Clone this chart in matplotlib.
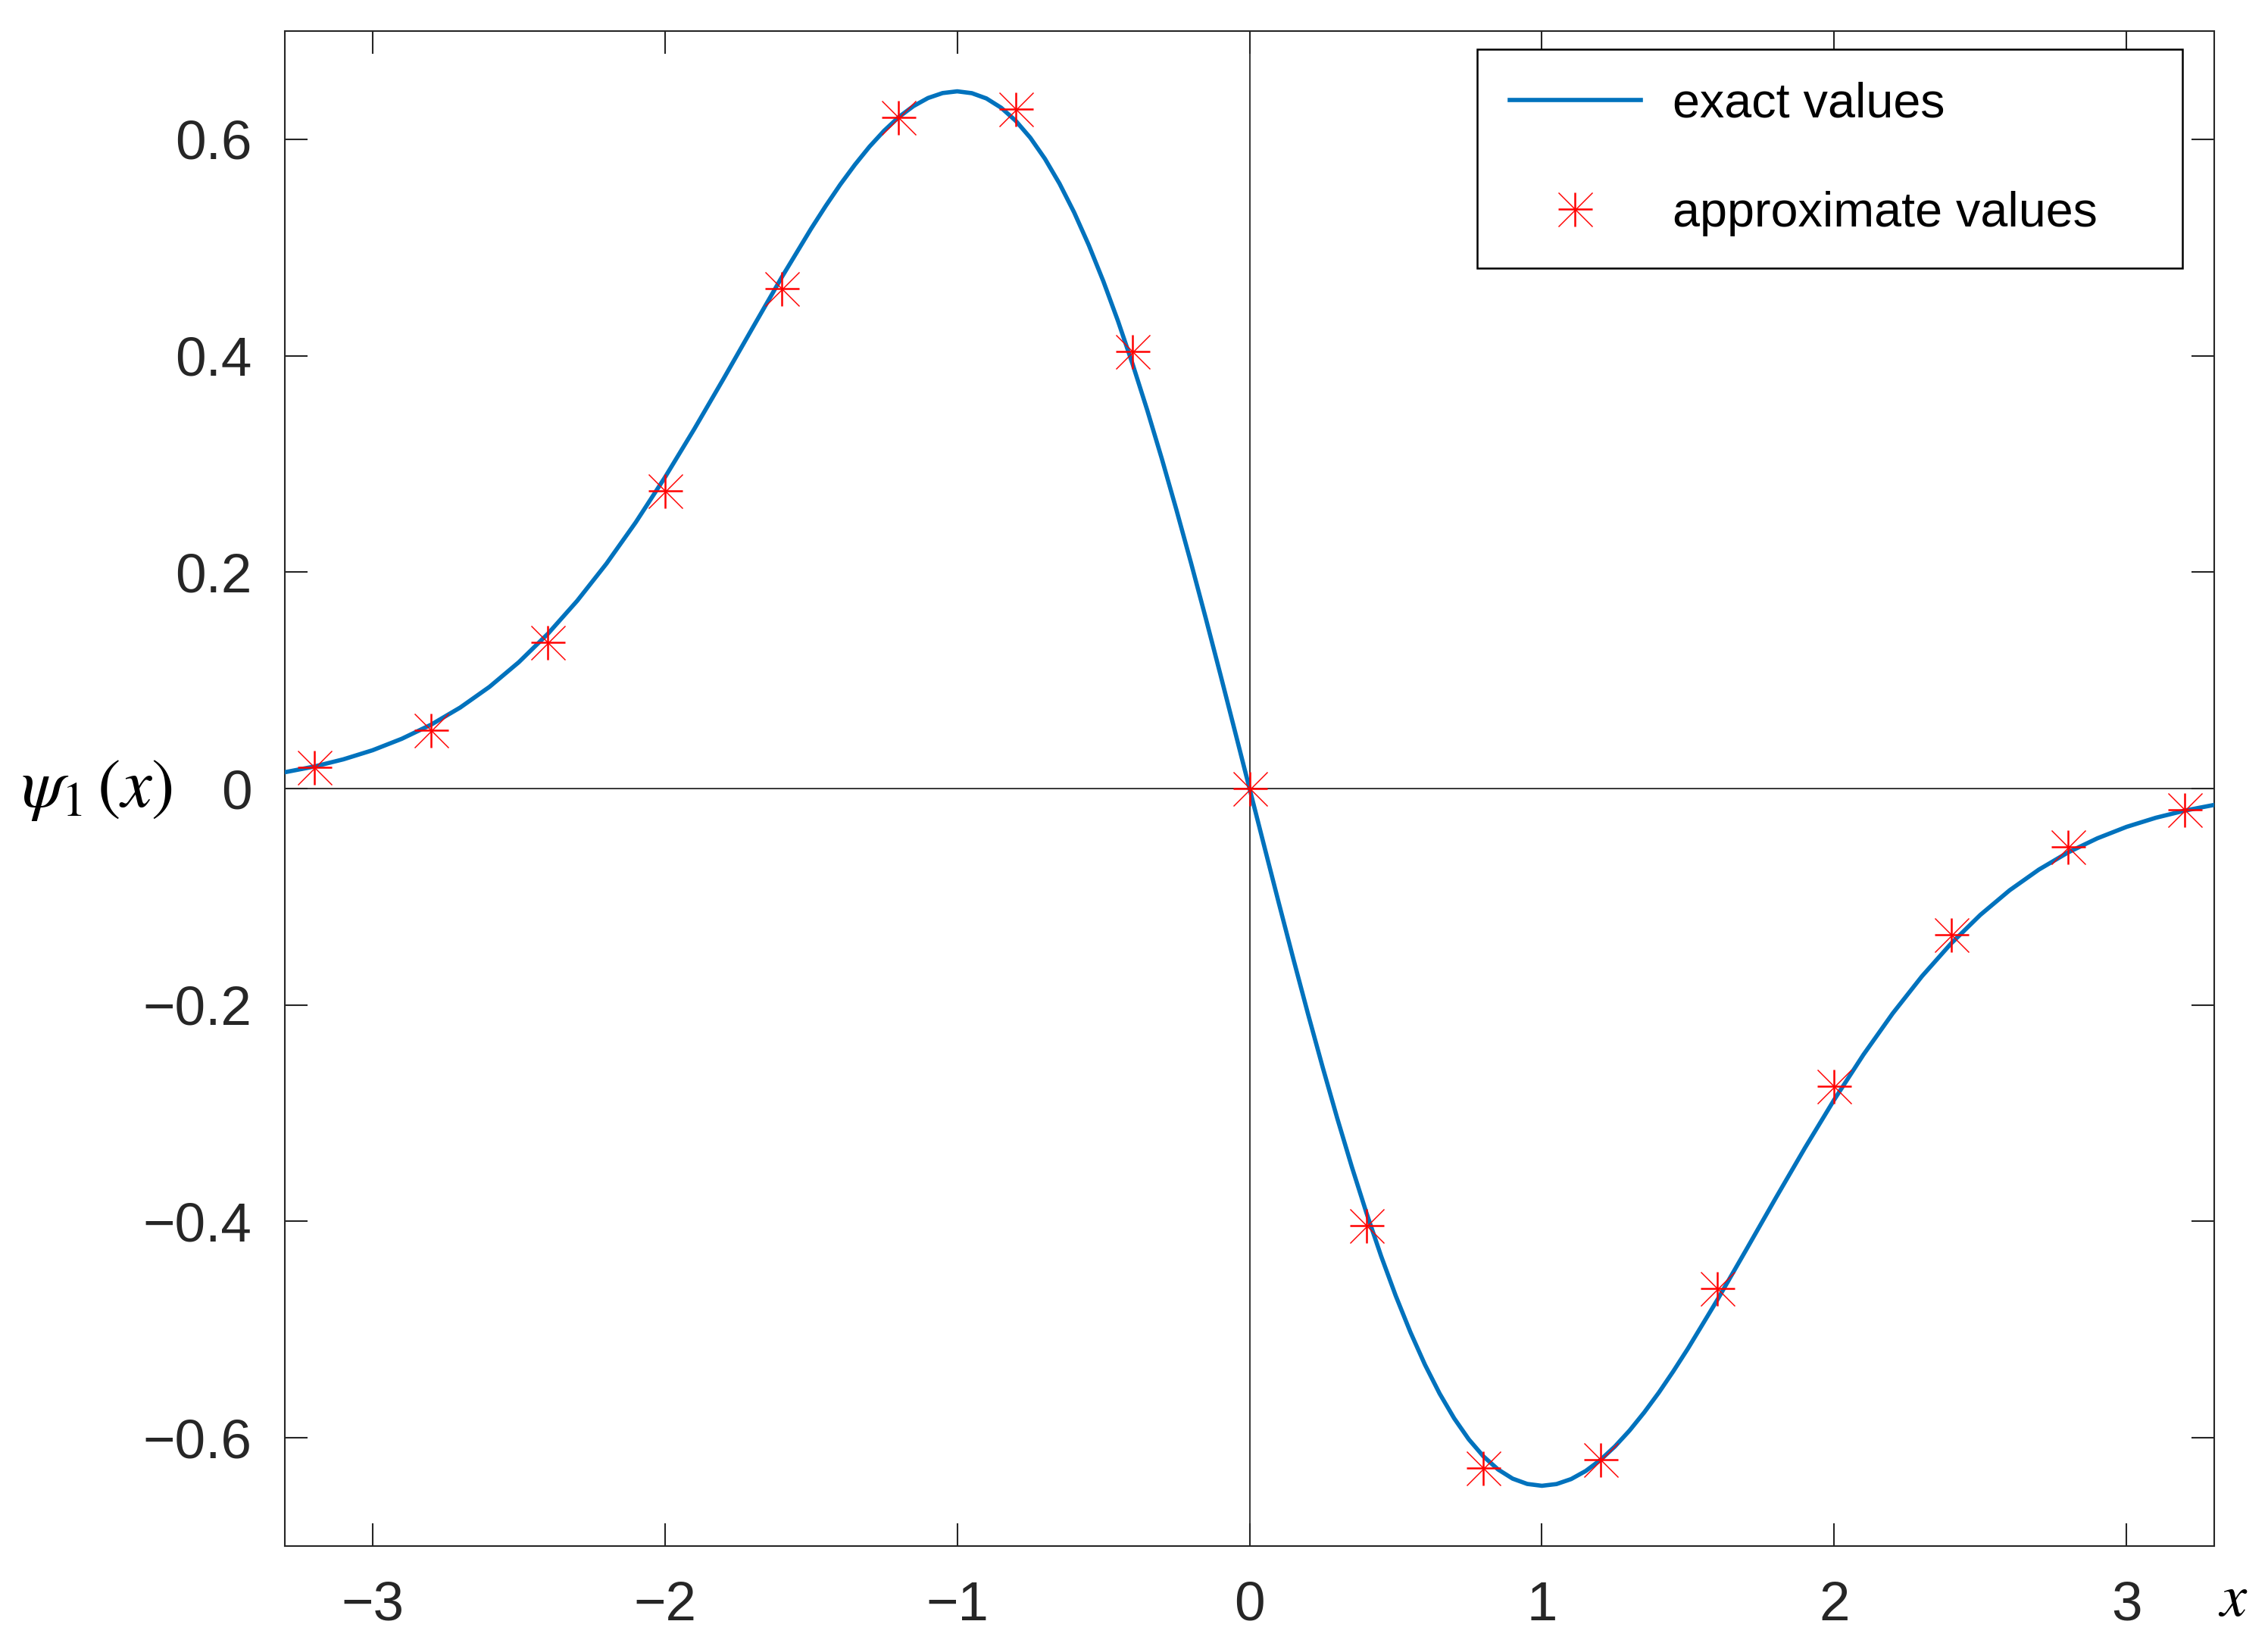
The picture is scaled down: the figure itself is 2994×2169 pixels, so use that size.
import matplotlib
matplotlib.use("Agg")
import matplotlib.pyplot as plt
from matplotlib.legend_handler import HandlerTuple

plt.rcParams['font.family'] = ['Liberation Sans', 'DejaVu Sans']
plt.rcParams['mathtext.fontset'] = 'stix'

# exact curve samples (denser near the extrema)
x_exact = [-3.3, -3.2, -3.1, -3.0, -2.9, -2.8, -2.7, -2.6, -2.5, -2.4, -2.3, -2.2,
           -2.1, -2.0, -1.9, -1.8, -1.7, -1.6, -1.5, -1.45, -1.4, -1.35, -1.3, -1.25,
           -1.2, -1.15, -1.1, -1.05, -1.0, -0.95, -0.9, -0.85, -0.8, -0.75, -0.7,
           -0.65, -0.6, -0.55, -0.5, -0.45, -0.4, -0.35, -0.3, -0.25, -0.2, -0.15,
           -0.1, -0.05, 0.0,
           0.05, 0.1, 0.15, 0.2, 0.25, 0.3, 0.35, 0.4, 0.45, 0.5, 0.55, 0.6, 0.65,
           0.7, 0.75, 0.8, 0.85, 0.9, 0.95, 1.0, 1.05, 1.1, 1.15, 1.2, 1.25, 1.3,
           1.35, 1.4, 1.45, 1.5, 1.6, 1.7, 1.8, 1.9, 2.0, 2.1, 2.2, 2.3, 2.4,
           2.5, 2.6, 2.7, 2.8, 2.9, 3.0, 3.1, 3.2, 3.3]
y_exact = [0.0151, 0.0203, 0.0270, 0.0354, 0.0460, 0.0590, 0.0749, 0.0940, 0.1167,
           0.1431, 0.1735, 0.2078, 0.2459, 0.2875, 0.3320, 0.3784, 0.4257, 0.4726,
           0.5173, 0.5383, 0.5582, 0.5765, 0.5932, 0.6079, 0.6205, 0.6306, 0.6381,
           0.6427, 0.6443, 0.6426, 0.6377, 0.6292, 0.6171, 0.6014, 0.5820, 0.5590,
           0.5324, 0.5022, 0.4687, 0.4320, 0.3922, 0.3497, 0.3047, 0.2574, 0.2083,
           0.1576, 0.1057, 0.0530, 0.0,
           -0.0530, -0.1057, -0.1576, -0.2083, -0.2574, -0.3047, -0.3497, -0.3922,
           -0.4320, -0.4687, -0.5022, -0.5324, -0.5590, -0.5820, -0.6014, -0.6171,
           -0.6292, -0.6377, -0.6426, -0.6443, -0.6427, -0.6381, -0.6306, -0.6205,
           -0.6079, -0.5932, -0.5765, -0.5582, -0.5383, -0.5173, -0.4726, -0.4257,
           -0.3784, -0.3320, -0.2875, -0.2459, -0.2078, -0.1735, -0.1431, -0.1167,
           -0.0940, -0.0749, -0.0590, -0.0460, -0.0354, -0.0270, -0.0203, -0.0151]

# approximate values
x_approx = [-3.2, -2.8, -2.4, -2.0, -1.6, -1.2, -0.8, -0.4, 0.0,
            0.4, 0.8, 1.2, 1.6, 2.0, 2.4, 2.8, 3.2]
y_approx = [0.0193, 0.054, 0.135, 0.275, 0.462, 0.620, 0.628, 0.404, 0.0,
            -0.404, -0.628, -0.620, -0.462, -0.275, -0.135, -0.054, -0.0193]

x_ticks = [-3, -2, -1, 0, 1, 2, 3]
x_tick_labels = ['\u22123', '\u22122', '\u22121', '0', '1', '2', '3']
y_ticks = [-0.6, -0.4, -0.2, 0, 0.2, 0.4, 0.6]
y_tick_labels = ['\u22120.6', '\u22120.4', '\u22120.2', '0', '0.2', '0.4', '0.6']

fig = plt.figure(figsize=(9.98, 7.23), dpi=300)
ax = fig.add_axes([0.1256, 0.0590, 0.9763 - 0.1256, 0.9811 - 0.0590])

ax.axhline(0, color='#303030', lw=0.45, zorder=1)
ax.axvline(0, color='#303030', lw=0.45, zorder=1)

line, = ax.plot(x_exact, y_exact, color='#0072BD', lw=1.35, zorder=3)
m1, = ax.plot(x_approx, y_approx, linestyle='none', marker='+', markersize=10.8,
              markeredgewidth=0.6, color='#FF0000', zorder=4)
m2, = ax.plot(x_approx, y_approx, linestyle='none', marker='x', markersize=10.8,
              markeredgewidth=0.35, color='#FF0000', zorder=4)

ax.set_xlim(-3.3, 3.3)
ax.set_ylim(-0.7, 0.7)
ax.set_xticks(x_ticks)
ax.set_xticklabels(x_tick_labels)
ax.set_yticks(y_ticks)
ax.set_yticklabels(y_tick_labels)

ax.tick_params(axis='both', direction='in', length=7.2, width=0.5, color='#262626',
               labelsize=17.5, labelcolor='#262626', top=True, right=True)
ax.tick_params(axis='x', pad=11)
ax.tick_params(axis='y', pad=10.5)
for s in ax.spines.values():
    s.set_linewidth(0.5)
    s.set_color('#262626')

fig.text(0.0427, 0.519, r'$\psi_1\,(x)$', fontsize=22, ha='center', va='center')
fig.text(0.9846, 0.026, r'$x$', fontsize=19, ha='center', va='center')

leg = fig.legend([line, (m1, m2)], ['exact values', 'approximate values'],
                 loc='upper left', bbox_to_anchor=(0.6513, 0.970, 0.9623 - 0.6513, 0.0),
                 mode='expand', fontsize=15.5, frameon=True, fancybox=False,
                 handlelength=2.68, handletextpad=0.65, labelspacing=1.30,
                 borderpad=0.66, borderaxespad=0.0,
                 handler_map={tuple: HandlerTuple(ndivide=1)})
leg.get_frame().set_edgecolor('black')
leg.get_frame().set_linewidth(0.6)
leg.get_frame().set_alpha(None)
leg.get_frame().set_facecolor('white')

fig.savefig('out.png', dpi=300)
